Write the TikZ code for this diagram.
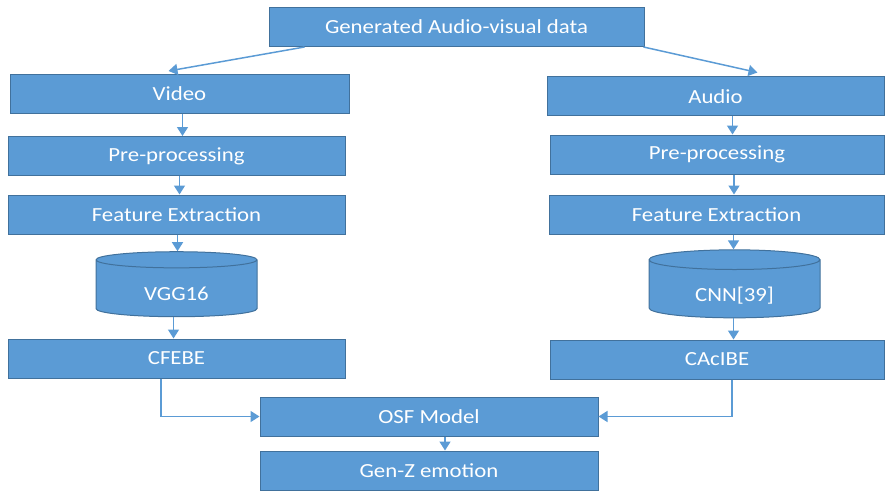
\documentclass[tikz,border=0pt]{standalone}
\usepackage{fontspec}
\setmainfont{Carlito}[FakeStretch=1.14]
\usetikzlibrary{arrows.meta, positioning, shapes.geometric}
\definecolor{boxblue}{RGB}{91,155,213}
\definecolor{edgeblue}{RGB}{65,113,156}

\begin{document}
\begin{tikzpicture}[x=1pt,y=-1pt,>={Triangle[length=9pt,width=11pt]},
  font=\fontsize{20}{24}\selectfont,
  blockbox/.style={draw=edgeblue, fill=boxblue, text=white, line width=1pt,
    minimum height=39pt, inner sep=0pt},
  dbbox/.style={cylinder, shape border rotate=90, aspect=0.25, draw=edgeblue,
    fill=boxblue, text=white, line width=1pt, inner sep=0pt,
    text height=24pt, text depth=0pt},
  flow/.style={->, draw=boxblue, line width=1.5pt}]

\useasboundingbox (0,0) rectangle (885,492);

% --- Generated data
\node[blockbox, minimum width=375pt] (data) at (456.5,27) {Generated Audio-visual data};

% --- Video branch
\node[blockbox, minimum width=339pt] (video) at (179.5,94) {Video};
\node[blockbox, minimum width=337pt] (vpre) at (176.5,156) {Pre-processing};
\node[blockbox, minimum width=337pt] (vfeat) at (176.5,214.5) {Feature Extraction};
\node[dbbox, minimum width=161pt, minimum height=65pt] (vgg) at (176.5,288.5) {VGG16};
\node[blockbox, minimum width=337pt] (cfebe) at (176.5,358.5) {CFEBE};

% --- Audio branch
\node[blockbox, minimum width=337pt] (audio) at (715.5,96.5) {Audio};
\node[blockbox, minimum width=334pt] (apre) at (717,154.5) {Pre-processing};
\node[blockbox, minimum width=335pt] (afeat) at (716.5,214.5) {Feature Extraction};
\node[dbbox, minimum width=171pt, minimum height=68pt] (cnn) at (734.5,289) {CNN[39]};
\node[blockbox, minimum width=334pt] (cacibe) at (717,359.5) {CAcIBE};

% --- Fusion
\node[blockbox, minimum width=338pt] (osf) at (429,416.5) {OSF Model};
\node[blockbox, minimum width=338pt] (genz) at (429,470.5) {Gen-Z emotion};

% --- Arrows
\draw[flow] ([xshift=36pt]data.south west) -- ([xshift=-11pt,yshift=3pt]video.north);
\draw[flow] ([xshift=-1pt]data.south east) -- ([xshift=42pt,yshift=4pt]audio.north);

\draw[flow] ([xshift=3pt]video.south) -- ([xshift=3pt]video.south |- vpre.north);
\draw[flow] ([xshift=3pt]vpre.south) -- ([xshift=3pt]vpre.south |- vfeat.north);
\draw[flow] ([xshift=1pt]vfeat.south) -- ([xshift=1pt]vfeat.south |- vgg.north);
\draw[flow] ([xshift=-3pt]vgg.south) -- ([xshift=-3pt]vgg.south |- cfebe.north);

\draw[flow] ([xshift=17pt]audio.south) -- ([xshift=17pt]audio.south |- apre.north);
\draw[flow] ([xshift=17pt]apre.south) -- ([xshift=17pt]apre.south |- afeat.north);
\draw[flow] ([xshift=17pt]afeat.south) -- ([xshift=17pt]afeat.south |- cnn.north);
\draw[flow] ([xshift=-1pt]cnn.south) -- ([xshift=-1pt]cnn.south |- cacibe.north);

\draw[flow] ([xshift=-15.5pt]cfebe.south) |- (osf.west);
\draw[flow] ([xshift=15pt]cacibe.south) |- (osf.east);
\draw[flow] ([xshift=16pt]osf.south) -- ([xshift=16pt]genz.north);
\end{tikzpicture}
\end{document}
